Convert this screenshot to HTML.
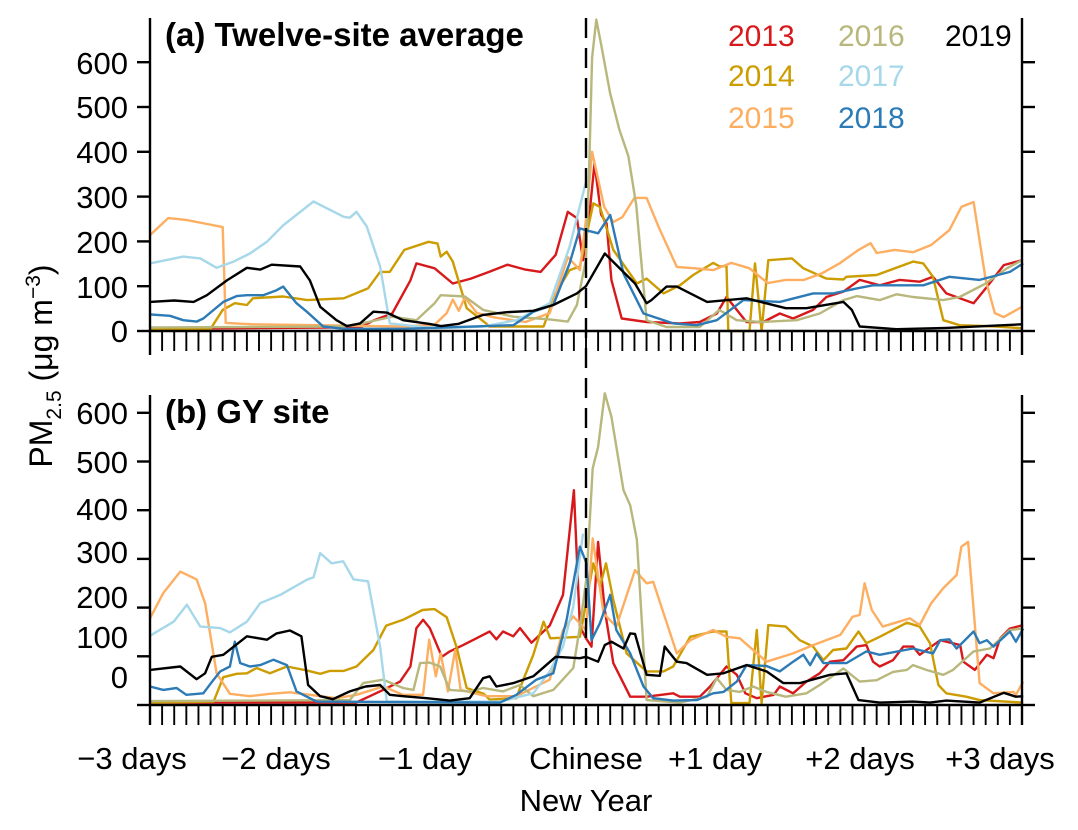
<!DOCTYPE html>
<html><head><meta charset="utf-8">
<style>
html,body{margin:0;padding:0;background:#fff;}
svg{display:block;font-family:"Liberation Sans",Arial,sans-serif;}
</style></head>
<body>
<svg id="chart" width="1078" height="830" viewBox="0 0 1078 830" xmlns="http://www.w3.org/2000/svg"></svg>
<script>
const years = ["2013","2014","2015","2016","2017","2018","2019"];
const colors = ["#d7191c","#cc9c00","#fdae61","#b8b77c","#a6d8ea","#2c7bb6","#000000"];
const yTicks = [0,100,200,300,400,500,600];
const xTickLabels = ["\u22123 days","\u22122 days","\u22121 day","Chinese","+1 day","+2 days","+3 days"];

// Panel (a) hours and values
const aH2013 = [-72,-40,-37,-35,-32,-29,-28,-25,-22,-19,-16,-13,-10,-7.5,-5,-3,-1.5,-0.5,0.5,1.4,2.5,3.4,4.2,5.9,10,15.5,18.8,21.6,23.2,26.5,29.3,32,34.2,37.5,39.7,42.5,45.2,48.5,51.8,55.1,57.3,59.5,64,66,69,72];
const aV2013 = [5,8,10,24,39,113,151,140,106,117,132,148,137,132,170,266,252,158,250,374,260,240,114,28,20,17,20,39,76,20,20,39,28,47,76,88,114,102,114,110,121,84,62,95,147,158];
const aH2014 = [-72,-62,-60,-58,-56,-55,-50,-46,-40,-36,-34,-32.4,-30,-26,-24.5,-24,-23,-22,-19.7,-16.5,-16,-7,-5,-2.7,-1,1.2,2.3,4.5,8.4,10,12.8,15.5,17.7,21,22.1,23.2,23.5,27,27.9,29,30.1,34,35.9,39.7,42.5,43,48,54,55.7,57.3,59,61.7,67.8,72];
const aV2014 = [5,5,47,62,58,73,77,69,73,95,132,132,181,199,195,166,177,155,51,17,10,10,84,136,144,285,277,181,106,117,84,102,125,152,144,145,0,0,151,0,158,162,140,117,115,121,125,155,151,121,24,13,10,6];
const aH2015 = [-72,-69,-66,-63,-60,-59.5,-55,-40,-30,-25,-23,-22,-21,-20,-18,-15,-10,-6,-3,-1,0,1,3,4.5,6,8,10,12,15,18,21,24,27,30,33,36,39,42,45,47,48,51,54,57,60,62,64,66,67.5,69,72];
const aV2015 = [214,252,248,240,232,18,15,12,10,14,40,70,45,75,40,30,20,40,165,136,250,400,277,243,254,297,297,232,143,140,136,152,140,107,114,114,129,152,181,196,174,181,176,192,225,277,288,114,40,31,54];
const aH2016 = [-72,-40,-37,-32,-28,-25,-24,-20,-17,-12,-6,-3,-1.5,0,0.5,1,1.7,2.5,4,5.5,7,8.3,9.5,10,13.3,18.8,22,24.9,28.7,34.8,38.6,42.5,44.7,48.5,51.3,54,59,61.7,66,69.5,72];
const aV2016 = [8,10,17,32,24,62,80,77,47,32,26,21,58,160,350,610,695,640,530,450,390,280,100,24,9,9,47,24,20,24,39,69,78,69,82,76,69,76,106,140,158];
const aH2017 = [-72,-66.5,-63.7,-61,-58.2,-55.5,-52.7,-50,-45,-40,-39,-37.9,-36.2,-34,-32.4,-25,-17,-11.5,-6,-2.7,0];
const aV2017 = [151,166,162,141,155,173,199,236,289,255,253,266,233,144,17,6,10,24,62,188,333];
const aH2018 = [-72,-68.7,-66.5,-64.3,-63.2,-59.9,-57.7,-56,-53.3,-51.1,-50,-47.8,-46.1,-43.4,-40,-30,-12,-8.7,-5.4,-2.7,-1,0,2,4,6.2,9.5,14.4,18.3,21.6,26,32,37.5,40.8,44.7,47.4,55.7,60,65,70,72.2];
const aV2018 = [37,34,24,21,28,65,78,80,80,91,99,62,43,10,5,5,13,43,58,151,229,225,218,259,128,39,17,13,24,69,65,84,84,95,102,102,121,114,132,151];
const aH2019 = [-72,-68,-64.8,-62.6,-59.3,-56,-53.8,-51.9,-47.2,-45.6,-43.9,-41.2,-39.5,-37.3,-35.1,-32.9,-30.2,-26,-23.9,-21,-17,-13.1,-8.7,-5.4,-1.5,0,3.1,8.1,10,10.8,13.3,15,20,26.5,33,36.4,42.5,43.9,45.2,51.3,59.5,72];
const aV2019 = [65,68,65,80,113,141,137,148,144,113,54,24,11,17,43,41,24,16,11,16,36,42,45,58,84,100,173,106,62,69,99,99,65,73,51,51,65,47,10,4,7,15];

// Panel (b) hours and values
const bH2013 = [-72,-38,-35.7,-33.5,-30.7,-29,-28,-26.9,-25.8,-23.8,-22.5,-20.3,-18.1,-15.9,-14.8,-13.7,-12,-10.9,-9,-6,-3.8,-2,-1,0,0.9,2,3.1,4.5,7.3,10,14.4,15.5,18.8,20.5,23.2,24.9,26.3,28.2,31,32,34.2,36.4,38.6,40.3,42.5,44.7,46.3,47.4,48.5,50.7,52.4,54,55.1,58.5,61.8,62.3,64.2,66.2,67.3,68.4,70,72.2];
const bV2013 = [5,5,18,31,48,79,158,175,158,99,110,123,137,151,135,151,141,158,128,163,226,441,161,137,120,335,195,86,17,17,24,17,17,38,79,62,24,14,21,38,24,48,65,89,92,120,123,89,79,92,120,120,103,133,123,89,72,103,96,137,157,164];
const bH2014 = [-72,-61.5,-59.9,-57.7,-56,-54.4,-52.2,-49.4,-46.1,-43.9,-42.3,-40,-37.9,-35.1,-33,-30.2,-27,-25,-23,-21.4,-19.7,-16.9,-15.9,-11.5,-10.9,-8.7,-7,-5.9,-1,1.2,2.3,3.3,4.5,6.7,10,12.8,14.4,17.2,21,23.2,24,27,28.2,29,30.1,33,35.3,37.5,39.2,40.8,43,45,46.3,48.5,53,55.1,56.8,58.2,59.5,62.8,65,72.2];
const bV2014 = [5,7,57,64,65,76,65,79,71,64,70,70,79,113,163,175,195,197,180,120,35,23,11,14,35,103,171,137,140,291,243,291,216,106,69,69,79,140,151,151,4,4,154,4,164,161,133,120,92,113,116,151,127,140,169,161,127,41,24,17,10,5];
const bH2015 = [-72,-69.8,-67,-64.3,-62.9,-61,-58.8,-55.5,-52.2,-48.9,-45.6,-41.2,-37.9,-33.5,-30.2,-26.9,-25.9,-24.8,-24,-22.8,-21.6,-20.7,-16.4,-11.5,-6,-3.8,-2.1,0,1.1,2.9,5,8.1,10,11.1,15,17.2,21,23.2,25.4,29.8,34.2,37.5,42,44,45.2,46,47.2,49,53.5,55.1,57,59,61.2,62,63.1,65,67.3,70.6,71,72.2];
const bV2015 = [178,230,274,258,209,65,23,18,23,26,21,14,21,38,21,21,134,59,106,28,113,31,18,18,52,154,182,154,342,188,161,277,250,253,106,133,154,140,137,89,106,123,144,181,185,250,195,161,178,164,209,240,267,325,335,45,24,27,21,48];
const bH2016 = [-72,-39,-36.8,-33.5,-30.2,-28.5,-27.4,-25.8,-24.1,-22.5,-19.2,-17,-13.7,-10.9,-8.7,-5.4,-2.1,-1,0.1,1.1,2,3.1,4.2,6.2,7.3,8.4,10,13.3,15.5,20,21.6,23.2,25.4,27.6,29.8,33,36.4,38.6,42.5,45.2,48,50.7,53,54,56.2,59,60.6,64,66.7,70,72.2];
const bV2016 = [8,10,45,52,35,31,86,87,79,31,28,35,28,41,18,31,76,161,263,486,530,640,592,441,410,339,10,7,5,17,55,31,27,38,27,17,24,41,75,48,51,68,72,82,72,62,72,110,116,154,157];
const bH2017 = [-72,-68.1,-65.9,-63.7,-60.4,-58.8,-56,-53.8,-50.5,-46.1,-45,-43.9,-42,-40.1,-38.4,-36,-34,-32.9,-20,-14.2,-8.7,-6,-3.8,-2.1,-0.5];
const bV2017 = [142,171,206,161,158,149,171,209,226,257,262,312,291,295,258,254,120,7,7,7,24,69,120,202,352];
const bH2018 = [-72,-69.8,-67.6,-66,-63.2,-61.5,-60.4,-58.8,-58,-57.1,-55.5,-53.8,-51.6,-49.4,-47.8,-44.5,-14.2,-11.5,-8.2,-5.4,-3.2,-1,0.1,0.9,2.3,4,5,7.3,9.5,11.1,14.4,18.3,21,22.7,24.9,26.5,29.8,32,34.2,35.9,37,38.1,39.2,43,46.3,48.5,54,57.3,58.5,60,61.2,64,65,66.2,67.3,70,71,72.2];
const bV2018 = [38,31,35,21,24,52,69,79,130,86,79,82,93,82,28,7,5,21,52,65,175,325,291,133,168,226,154,106,38,14,9,10,24,27,48,82,80,69,89,103,82,106,86,86,110,103,116,106,133,135,116,151,127,133,120,151,130,157];
const bH2019 = [-72,-67,-64.3,-62.9,-61.8,-59.9,-56,-52.7,-51.1,-48.9,-47,-45.9,-43.9,-41.8,-39,-36.4,-34,-32.4,-30.2,-26.3,-22.5,-19.2,-17,-15.9,-14.8,-12,-8.7,-5,-1,0,2,3.1,4.2,6.2,7.3,8.1,10,12.2,13,15,16.6,20,22.7,26.5,29.8,32.6,35.3,40.3,43,45,48.5,54,56.8,59.5,65,69,71,72.2];
const bV2019 = [72,79,53,65,99,103,141,134,147,153,141,41,18,12,28,38,41,21,18,14,9,14,55,59,38,45,59,99,96,99,89,123,130,116,147,146,62,60,120,89,86,62,65,82,69,45,45,62,65,10,5,7,5,9,5,25,17,18];

const aHours = [aH2013,aH2014,aH2015,aH2016,aH2017,aH2018,aH2019];
const aVals = [aV2013,aV2014,aV2015,aV2016,aV2017,aV2018,aV2019];
const bHours = [bH2013,bH2014,bH2015,bH2016,bH2017,bH2018,bH2019];
const bVals = [bV2013,bV2014,bV2015,bV2016,bV2017,bV2018,bV2019];

const NS = "http://www.w3.org/2000/svg";
const svg = document.getElementById("chart");
function mk(tag, attrs, parent) {
  const e = document.createElementNS(NS, tag);
  for (const k in attrs) e.setAttribute(k, attrs[k]);
  (parent || svg).appendChild(e);
  return e;
}
const X0 = 150, X1 = 1022;
function xScale(h) { return X0 + (h + 72) / 144 * (X1 - X0); }

const panels = [
  {key:"a", zero:331, per100:44.8, top:18, bottom:355, title:"(a) Twelve-site average", titleY:46,
   labelY:[331,287,242,197,152,107,63], hours:aHours, vals:aVals},
  {key:"b", zero:705, per100:48.7, top:395, bottom:725, title:"(b) GY site", titleY:423,
   labelY:[677,637,597,552,509,462,413], hours:bHours, vals:bVals}
];

panels.forEach(p => {
  const yScale = v => p.zero - v / 100 * p.per100;
  const g = mk("g", {});
  
  
  for (let s = 0; s < years.length; s++) {
    const hs = p.hours[s], vs = p.vals[s];
    let d = "";
    for (let i = 0; i < hs.length; i++) {
      d += (i ? "L" : "M") + xScale(hs[i]).toFixed(1) + "," + Math.max(p.top - 5, yScale(vs[i])).toFixed(1);
    }
    const path = mk("path", {d:d, fill:"none", stroke:colors[s], "stroke-width":2.4, "stroke-linejoin":"round"}, g);
    
    
  }
  const axes = mk("g", {stroke:"#000", "stroke-width":2.4}, g);
  
  
  mk("line", {x1:X0, y1:p.top, x2:X0, y2:p.bottom}, axes);
  mk("line", {x1:X1, y1:p.top, x2:X1, y2:p.bottom}, axes);
  mk("line", {x1:X0, y1:p.zero, x2:X1, y2:p.zero}, axes);
  for (let h = -72; h <= 72; h += 2) {
    const x = xScale(h);
    mk("line", {x1:x, y1:p.zero, x2:x, y2:p.zero + 20, "stroke-width":1.9}, axes);
  }
  yTicks.forEach((v, i) => {
    const y = yScale(v);
    mk("line", {x1:X0 - 13, y1:y, x2:X0, y2:y}, axes);
    mk("line", {x1:X1, y1:y, x2:X1 + 13, y2:y}, axes);
    const t = mk("text", {x:128, y:p.labelY[i] + 11, "text-anchor":"end", "font-size":31, fill:"#000"}, g);
    t.textContent = v;
    
    
  });
  const tt = mk("text", {x:165, y:p.titleY, "font-size":33, "font-weight":"bold", fill:"#000"}, g);
  tt.textContent = p.title;
  
  
});

const dash = mk("line", {x1:586, y1:18, x2:586, y2:725, stroke:"#000", "stroke-width":2.4, "stroke-dasharray":"20,10"});



const xLabelPos = [132,276,425,586,715,860,1000];
xTickLabels.forEach((s, i) => {
  const t = mk("text", {x:xLabelPos[i], y:769, "text-anchor":"middle", "font-size":31, fill:"#000"});
  t.textContent = s;
  
  
});
const ny = mk("text", {x:586, y:811, "text-anchor":"middle", "font-size":31, fill:"#000"});
ny.textContent = "New Year";



const yt = mk("text", {transform:"translate(52,366) rotate(-90)", "text-anchor":"middle", "font-size":32, fill:"#000"});


yt.innerHTML = 'PM<tspan font-size="21" dy="9">2.5</tspan><tspan dy="-9"> (\u03bcg m</tspan><tspan font-size="21" dy="-12">\u22123</tspan><tspan dy="12">)</tspan>';

const legX = [728,838,945], legY = [46,86,128];
const legPos = [[0,0],[0,1],[0,2],[1,0],[1,1],[1,2],[2,0]];
years.forEach((yr, i) => {
  const t = mk("text", {x:legX[legPos[i][0]], y:legY[legPos[i][1]], "font-size":30, fill:colors[i]});
  t.textContent = yr;
  
  
});
</script>
</body></html>
